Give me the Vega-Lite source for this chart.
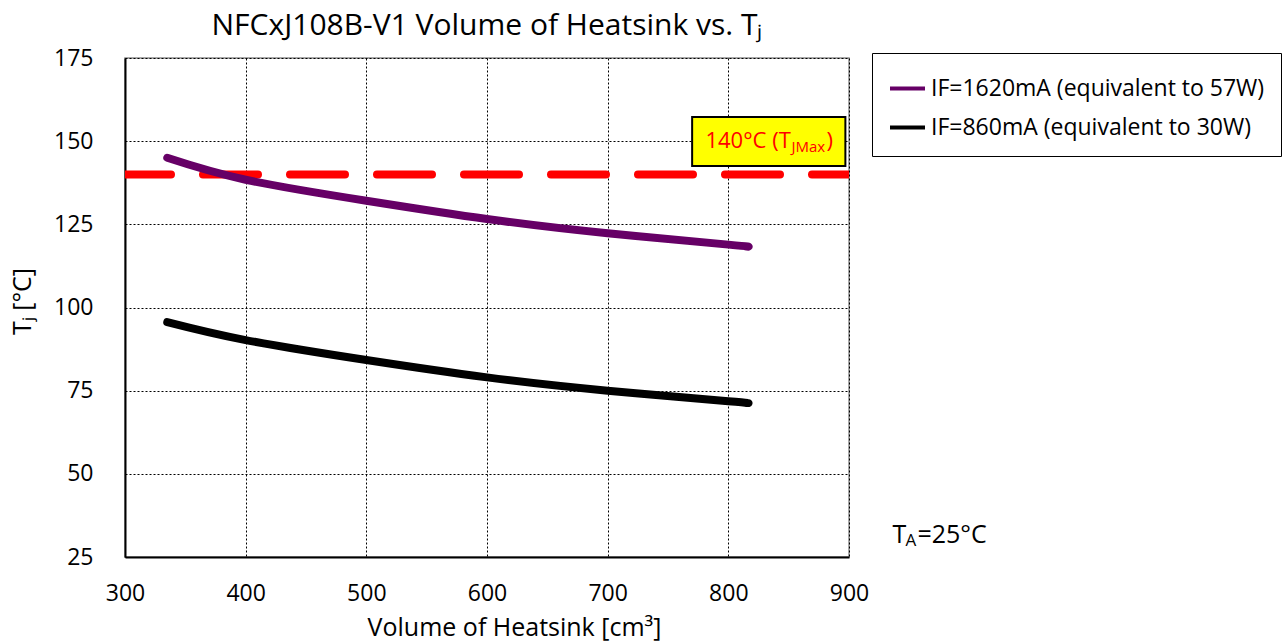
{
  "$schema": "https://vega.github.io/schema/vega-lite/v6.json",
  "width": 724,
  "height": 499,
  "autosize": {"type": "none"},
  "padding": {"left": 125, "top": 58, "right": 437, "bottom": 86},
  "background": "white",
  "title": {"text": "NFCxJ108B-V1 Volume of Heatsink vs. Tⱼ", "font": "Open Sans", "fontSize": 30, "fontWeight": "normal", "color": "#000", "anchor": "middle", "offset": 6},
  "config": {
    "font": "Open Sans",
    "view": {"stroke": "#8c8c8c", "strokeWidth": 1.5},
    "axis": {"labelFont": "Open Sans", "titleFont": "Open Sans", "labelColor": "#000", "titleColor": "#000", "labelFontSize": 23, "titleFontSize": 25, "titleFontWeight": "normal", "grid": true, "gridColor": "#000", "gridDash": [2, 2], "gridWidth": 1, "domainColor": "#000", "domainWidth": 2, "ticks": false, "labelFlush": false}
  },
  "datasets": {
    "curves": [
      {"volume": 335, "tj": 145.0, "series": "IF=1620mA (equivalent to 57W)"},
      {"volume": 400, "tj": 138.4, "series": "IF=1620mA (equivalent to 57W)"},
      {"volume": 500, "tj": 132.1, "series": "IF=1620mA (equivalent to 57W)"},
      {"volume": 600, "tj": 126.6, "series": "IF=1620mA (equivalent to 57W)"},
      {"volume": 700, "tj": 122.3, "series": "IF=1620mA (equivalent to 57W)"},
      {"volume": 800, "tj": 118.9, "series": "IF=1620mA (equivalent to 57W)"},
      {"volume": 815, "tj": 118.3, "series": "IF=1620mA (equivalent to 57W)"},
      {"volume": 335, "tj": 95.6, "series": "IF=860mA (equivalent to 30W)"},
      {"volume": 400, "tj": 90.2, "series": "IF=860mA (equivalent to 30W)"},
      {"volume": 500, "tj": 84.2, "series": "IF=860mA (equivalent to 30W)"},
      {"volume": 600, "tj": 79.0, "series": "IF=860mA (equivalent to 30W)"},
      {"volume": 700, "tj": 75.0, "series": "IF=860mA (equivalent to 30W)"},
      {"volume": 800, "tj": 71.8, "series": "IF=860mA (equivalent to 30W)"},
      {"volume": 815, "tj": 71.3, "series": "IF=860mA (equivalent to 30W)"}
    ],
    "limit": [{"volume": 300, "volume_end": 900, "tj": 140}],
    "box": [{"volume": 770, "volume_end": 897, "tj": 157.3, "tj_end": 142.5}],
    "boxlabel": [{"volume": 781, "tj": 150, "t1": "140°C (T", "t2": "JMax", "t3": ")"}],
    "ta": [{"volume": 936, "tj": 31.6, "t1": "T", "t2": "A", "t3": "=25°C"}]
  },
  "encoding": {
    "x": {"field": "volume", "type": "quantitative", "scale": {"domain": [300, 900], "nice": false, "zero": false},
          "axis": {"values": [300, 400, 500, 600, 700, 800, 900], "title": "Volume of Heatsink [cm³]", "labelPadding": 25, "titlePadding": 10, "titleX": 389, "titleAlign": "center"}},
    "y": {"field": "tj", "type": "quantitative", "scale": {"domain": [25, 175], "nice": false, "zero": false},
          "axis": {"values": [25, 50, 75, 100, 125, 150, 175], "title": "Tⱼ [°C]", "labelPadding": 32, "titlePadding": 18, "titleY": 243, "titleAlign": "center"}}
  },
  "layer": [
    {
      "data": {"name": "limit"},
      "mark": {"type": "rule", "color": "#ff0000", "strokeWidth": 8, "strokeDash": [55, 32], "strokeDashOffset": 9, "strokeCap": "round", "clip": true},
      "encoding": {"x2": {"field": "volume_end"}}
    },
    {
      "data": {"name": "curves"},
      "mark": {"type": "line", "strokeWidth": 8, "strokeCap": "round", "strokeJoin": "round", "interpolate": "natural"},
      "encoding": {
        "color": {"field": "series", "type": "nominal",
          "scale": {"domain": ["IF=1620mA (equivalent to 57W)", "IF=860mA (equivalent to 30W)"], "range": ["#660066", "#000000"]},
          "legend": {"orient": "none", "legendX": 747, "legendY": -5, "title": null, "strokeColor": "#000", "fillColor": "#fff", "padding": 16, "labelFontSize": 23, "labelFont": "Open Sans", "labelColor": "#000", "symbolType": "stroke", "symbolStrokeWidth": 4, "symbolSize": 1225, "rowPadding": 7, "labelOffset": 4, "labelLimit": 400}}
      }
    },
    {
      "data": {"name": "box"},
      "mark": {"type": "rect", "fill": "#ffff00", "stroke": "#000", "strokeWidth": 2},
      "encoding": {"x2": {"field": "volume_end"}, "y2": {"field": "tj_end"}}
    },
    {
      "data": {"name": "boxlabel"},
      "mark": {"type": "text", "align": "left", "baseline": "middle", "fontSize": 22, "color": "#ff0000", "font": "Open Sans"},
      "encoding": {"text": {"field": "t1"}}
    },
    {
      "data": {"name": "boxlabel"},
      "mark": {"type": "text", "align": "left", "baseline": "middle", "fontSize": 15, "dx": 86, "dy": 6, "color": "#ff0000", "font": "Open Sans"},
      "encoding": {"text": {"field": "t2"}}
    },
    {
      "data": {"name": "boxlabel"},
      "mark": {"type": "text", "align": "left", "baseline": "middle", "fontSize": 22, "dx": 121, "color": "#ff0000", "font": "Open Sans"},
      "encoding": {"text": {"field": "t3"}}
    },
    {
      "data": {"name": "ta"},
      "mark": {"type": "text", "align": "left", "baseline": "middle", "fontSize": 25, "color": "#000", "font": "Open Sans"},
      "encoding": {"text": {"field": "t1"}}
    },
    {
      "data": {"name": "ta"},
      "mark": {"type": "text", "align": "left", "baseline": "middle", "fontSize": 17, "dx": 13, "dy": 6, "color": "#000", "font": "Open Sans"},
      "encoding": {"text": {"field": "t2"}}
    },
    {
      "data": {"name": "ta"},
      "mark": {"type": "text", "align": "left", "baseline": "middle", "fontSize": 25, "dx": 25, "color": "#000", "font": "Open Sans"},
      "encoding": {"text": {"field": "t3"}}
    }
  ]
}
